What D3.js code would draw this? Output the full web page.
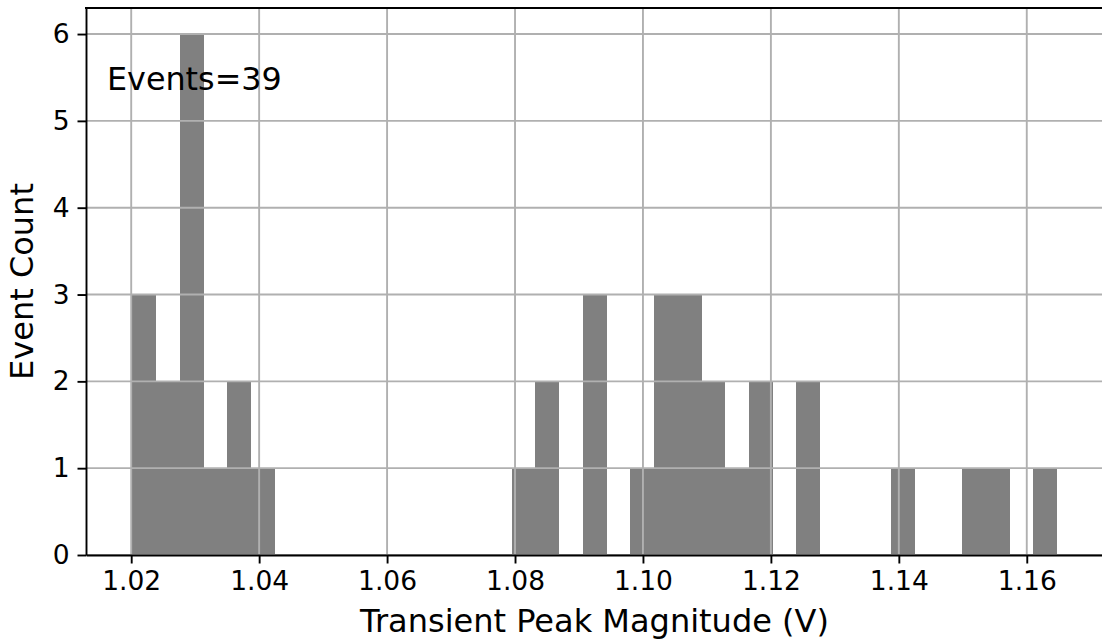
<!DOCTYPE html>
<html>
<head>
<meta charset="utf-8">
<script src="https://cdn.jsdelivr.net/npm/d3@7"></script>
<style>
  body { margin: 0; background: #fff; }
  svg { display: block; font-family: "DejaVu Sans", sans-serif; }
</style>
</head>
<body>
<div id="vis_container"></div>
<script>
// histogram data (volts), 39 equal bins
var binStart = 1.02016;
var binEnd = 1.16469;
var counts = [3, 2, 6, 1, 2, 1, 0, 0, 0, 0, 0, 0, 0, 0, 0, 0,
              1, 2, 0, 3, 0, 1, 3, 3, 2, 1, 2, 0, 2, 0, 0, 0,
              1, 0, 0, 1, 1, 0, 1];
var xTicks = [1.02, 1.04, 1.06, 1.08, 1.10, 1.12, 1.14, 1.16];
var yTicks = [0, 1, 2, 3, 4, 5, 6];
var eventsLabel = "Events=39";

var chart = {};
chart.width = 1102;
chart.height = 642;
chart.margin = {"top": 8, "left": 86, "right": -1, "bottom": 87};

var binWidth = (binEnd - binStart) / counts.length;
var bins = counts.map(function(c, i) {
	return {x0: binStart + i * binWidth, x1: binStart + (i + 1) * binWidth, count: c};
});

var pad = (binEnd - binStart) * 0.05;
chart.x = d3.scaleLinear()
	.domain([binStart - pad, binEnd + pad])
	.range([chart.margin.left, chart.width - chart.margin.right]);

chart.y = d3.scaleLinear()
	.domain([0, d3.max(counts) * 1.05])
	.range([chart.height - chart.margin.bottom, chart.margin.top]);

chart.svg = d3.select("#vis_container").append("svg")
	.attr("width", chart.width)
	.attr("height", chart.height);

// bars
chart.svg.append("g")
	.attr("shape-rendering", "crispEdges")
	.selectAll("rect")
	.data(bins.filter(function(d) { return d.count > 0; }))
	.enter()
	.append("rect")
		.attr("x", function(d) { return chart.x(d.x0); })
		.attr("width", function(d) { return chart.x(d.x1) - chart.x(d.x0) + 0.5; })
		.attr("y", function(d) { return chart.y(d.count); })
		.attr("height", function(d) { return chart.y(0) - chart.y(d.count); })
		.attr("fill", "#808080");

// grid on top of bars
var grid = chart.svg.append("g")
	.attr("stroke", "#b0b0b0")
	.attr("stroke-width", 1.9);

grid.selectAll(".vgrid")
	.data(xTicks)
	.enter()
	.append("line")
		.attr("x1", function(d) { return chart.x(d); })
		.attr("x2", function(d) { return chart.x(d); })
		.attr("y1", chart.y.range()[0])
		.attr("y2", chart.y.range()[1]);

grid.selectAll(".hgrid")
	.data(yTicks)
	.enter()
	.append("line")
		.attr("x1", chart.x.range()[0])
		.attr("x2", chart.x.range()[1])
		.attr("y1", function(d) { return chart.y(d); })
		.attr("y2", function(d) { return chart.y(d); });

// axes
var xAxis = d3.axisBottom(chart.x)
	.tickValues(xTicks)
	.tickFormat(d3.format(".2f"))
	.tickSizeInner(8.5)
	.tickSizeOuter(0)
	.tickPadding(8);

var yAxis = d3.axisLeft(chart.y)
	.tickValues(yTicks)
	.tickFormat(d3.format("d"))
	.tickSizeInner(8.5)
	.tickSizeOuter(0)
	.tickPadding(8);

function styleAxis(g) {
	g.selectAll("path").attr("stroke", "#000").attr("stroke-width", 1.9);
	g.selectAll("line").attr("stroke", "#000").attr("stroke-width", 1.9);
	g.selectAll("text")
		.attr("fill", "#000")
		.style("font-size", "26.5px")
		.style("font-family", "DejaVu Sans, sans-serif");
}

chart.svg.append("g")
	.attr("transform", "translate(0," + chart.y(0) + ")")
	.call(xAxis)
	.call(styleAxis);

chart.svg.append("g")
	.attr("transform", "translate(" + chart.x.range()[0] + ",0)")
	.call(yAxis)
	.call(styleAxis);

// top spine
chart.svg.append("line")
	.attr("x1", chart.x.range()[0] - 1)
	.attr("x2", chart.x.range()[1])
	.attr("y1", chart.y.range()[1])
	.attr("y2", chart.y.range()[1])
	.attr("stroke", "#000")
	.attr("stroke-width", 1.9);

// axis labels
chart.svg.append("text")
	.attr("x", (chart.x.range()[0] + chart.x.range()[1]) / 2)
	.attr("y", 632)
	.attr("text-anchor", "middle")
	.style("font-size", "32px")
	.text("Transient Peak Magnitude (V)");

chart.svg.append("text")
	.attr("transform", "translate(33," + (chart.y.range()[0] + chart.y.range()[1]) / 2 + ") rotate(-90)")
	.attr("text-anchor", "middle")
	.style("font-size", "32px")
	.text("Event Count");

// annotation
chart.svg.append("text")
	.attr("x", 107)
	.attr("y", 90)
	.style("font-size", "31.8px")
	.text(eventsLabel);
</script>
</body>
</html>
